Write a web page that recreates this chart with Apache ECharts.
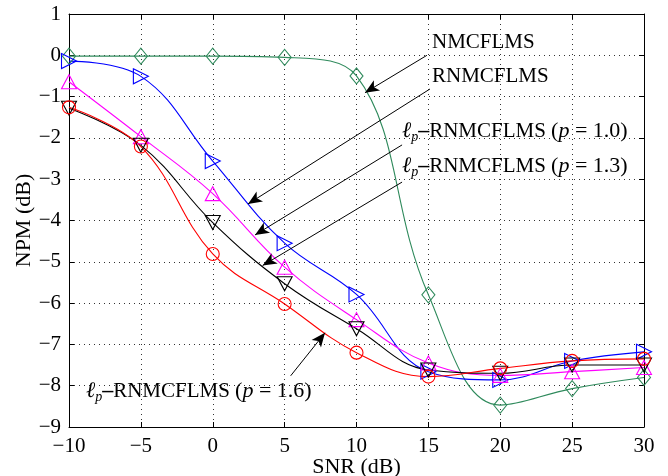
<!DOCTYPE html>
<html><head><meta charset="utf-8">
<script src="https://cdn.jsdelivr.net/npm/echarts@6/dist/echarts.min.js"></script>
<style>html,body{margin:0;padding:0;background:#fff}#c{width:668px;height:476px}</style>
</head><body><div id="c"></div>
<script>
const snr = [-10, -5, 0, 5, 10, 15, 20, 25, 30];
const nmcflms = [-0.02, -0.02, -0.02, -0.05, -0.5, -5.8, -8.47, -8.07, -7.8];
const rnmcflms = [-0.14, -0.51, -2.56, -4.55, -5.79, -7.66, -7.86, -7.4, -7.18];
const lp10 = [-0.64, -1.97, -3.35, -5.13, -6.4, -7.45, -7.75, -7.66, -7.56];
const lp13 = [-1.28, -2.18, -4.05, -5.53, -6.62, -7.62, -7.7, -7.5, -7.5];
const lp16 = [-1.26, -2.21, -4.81, -6.02, -7.2, -7.78, -7.58, -7.4, -7.35];
const xTicks = { min: -10, max: 30, interval: 5 };
const yTicks = { min: -9, max: 1, interval: 1 };

// annotation arrows: [start SNR, start NPM, end SNR, end NPM] in data units
const arrows = [
  [14.9, 0.0, 10.59, -0.905],
  [15.11, -0.816, 2.45, -3.60],
  [13.17, -2.17, 2.94, -4.35],
  [13.17, -3.07, 3.47, -5.09],
  [5.42, -7.76, 7.81, -6.72]
];

const FONT = 'Liberation Serif, Times New Roman, serif';
const pair = arr => snr.map((x, i) => [x, arr[i]]);
const fmt = v => v < 0 ? '\u2212' + Math.abs(v) : String(v);

const chart = echarts.init(document.getElementById('c'), null, { renderer: 'canvas' });

function mkSeries(name, data, color, symbol, size) {
  return {
    name, type: 'line', data: pair(data), smooth: 0.4,
    symbol, symbolSize: size, showAllSymbol: true,
    lineStyle: { color, width: 1.1 },
    itemStyle: { color: 'rgba(0,0,0,0)', borderColor: color, borderWidth: 1.1 },
    emphasis: { disabled: true }, z: 3
  };
}

const diamond = 'path://M0,-1L0.8,0L0,1L-0.8,0Z';

const series = [
  mkSeries('NMCFLMS', nmcflms, '#2f8a5c', diamond, [13, 16]),
  mkSeries('RNMCFLMS', rnmcflms, '#0000ff', 'path://M-0.7,-1L1,0L-0.7,1Z', [15, 15]),
  mkSeries('lp10', lp10, '#ff00ff', 'path://M0,-1L1,0.7L-1,0.7Z', [15, 14]),
  mkSeries('lp13', lp13, '#000000', 'path://M0,1L1,-0.7L-1,-0.7Z', [15, 14]),
  mkSeries('lp16', lp16, '#ff0000', 'circle', 13)
];
series.push({
  type: 'line', data: [], silent: true,
  markLine: {
    silent: true, animation: false,
    symbol: ['none', 'arrow'], symbolSize: [9, 14],
    lineStyle: { color: '#000', width: 1, type: 'solid' },
    label: { show: false },
    data: arrows.map(a => [{ coord: [a[0], a[1]] }, { coord: [a[2], a[3]] }])
  }
});

const axisCommon = {
  type: 'value',
  axisLine: { show: true, onZero: false, lineStyle: { color: '#000', width: 1 } },
  axisTick: { show: true, inside: true, length: 5, lineStyle: { color: '#000' } }
};

const rich = {
  l: { fontFamily: FONT, fontSize: 22, fontStyle: 'italic', color: '#444' },
  s: { fontFamily: FONT, fontSize: 14, fontStyle: 'italic', color: '#444', padding: [12, 0, 0, 0] },
  d: { fontFamily: FONT, fontSize: 22, fontWeight: 'bold', color: '#000' },
  t: { fontFamily: FONT, fontSize: 21, color: '#000' },
  m: { fontFamily: FONT, fontSize: 22, color: '#444' },
  i: { fontFamily: FONT, fontSize: 22, fontStyle: 'italic', color: '#444' }
};
function lpLabel(p) {
  return '{l|\u2113}{s|p}{d|\u2013}{t|RNMCFLMS }{m|(}{i|p}{m| = ' + p + ')}';
}
function txt(x, y, text) {
  return {
    type: 'text', x, y, silent: true, z: 10,
    style: { text, rich, font: '21px ' + FONT, fill: '#000', verticalAlign: 'middle', align: 'left' }
  };
}

chart.setOption({
  animation: false,
  backgroundColor: '#fff',
  grid: { left: 69, top: 14, right: 24, bottom: 49, containLabel: false, outerBoundsMode: 'none' },
  xAxis: [
    Object.assign({}, axisCommon, xTicks, {
      position: 'bottom',
      name: 'SNR (dB)', nameLocation: 'middle', nameGap: 29, nameMoveOverlap: false,
      nameTextStyle: { fontFamily: FONT, fontSize: 22, color: '#000' },
      axisLabel: { fontFamily: FONT, fontSize: 21, color: '#000', margin: 9, formatter: fmt },
      splitLine: { show: true, lineStyle: { color: '#333', width: 1, type: [1, 4] } }
    }),
    Object.assign({}, axisCommon, xTicks, {
      position: 'top', axisLabel: { show: false }, splitLine: { show: false }
    })
  ],
  yAxis: [
    Object.assign({}, axisCommon, yTicks, {
      position: 'left',
      name: 'NPM (dB)', nameLocation: 'middle', nameGap: 34, nameRotate: 90, nameMoveOverlap: false,
      nameTextStyle: { fontFamily: FONT, fontSize: 22, color: '#000' },
      axisLabel: { fontFamily: FONT, fontSize: 21, color: '#000', margin: 8, formatter: fmt },
      splitLine: { show: true, lineStyle: { color: '#333', width: 1, type: [1, 4] } }
    }),
    Object.assign({}, axisCommon, yTicks, {
      position: 'right', axisLabel: { show: false }, splitLine: { show: false }
    })
  ],
  series,
  graphic: [
    txt(432, 42, '{t|NMCFLMS}'),
    txt(432, 76, '{t|RNMCFLMS}'),
    txt(402, 131, lpLabel('1.0')),
    txt(402, 166, lpLabel('1.3')),
    txt(86, 391, lpLabel('1.6'))
  ]
});
</script></body></html>
